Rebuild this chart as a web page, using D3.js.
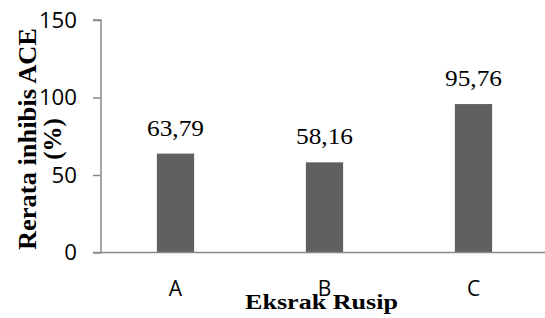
<!DOCTYPE html>
<html>
<head>
<meta charset="utf-8">
<script src="https://cdn.jsdelivr.net/npm/d3@7"></script>
<style>
  body { margin: 0; background: #fff; }
</style>
</head>
<body>
<svg id="chart" width="545" height="318"></svg>
<script>
const categories = ["A", "B", "C"];
const values = [63.79, 58.16, 95.76];
const valueLabels = ["63,79", "58,16", "95,76"];
const yTicks = [0, 50, 100, 150];

const svg = d3.select("#chart");
const margin = { left: 101, top: 20, right: 0, bottom: 65 };
const width = 545, height = 318;
const axisColor = "#898989";
const serif = "'Liberation Serif', 'Times New Roman', serif";
const sans = "'Open Sans', sans-serif";

const x = d3.scaleBand()
  .domain(categories)
  .range([margin.left, margin.left + 447])
  .paddingInner(0.75)
  .paddingOuter(0.375);

const y = d3.scaleLinear()
  .domain([0, 150])
  .range([height - margin.bottom - 0.5, margin.top]);

// y axis
const yAxis = svg.append("g")
  .attr("transform", `translate(${margin.left},0)`)
  .call(d3.axisLeft(y).tickValues(yTicks).tickSize(8).tickPadding(16));
yAxis.selectAll("line, path").attr("stroke", axisColor).attr("stroke-width", 1.5);
yAxis.select(".domain").attr("d", `M-8,${y(150)}H0V${y(0)}`);
yAxis.selectAll(".tick text")
  .style("font-family", sans)
  .style("font-size", "22px")
  .attr("textLength", (d) => String(d).length * 12.7)
  .attr("lengthAdjust", "spacingAndGlyphs")
  .attr("fill", "#000");

// bars
svg.append("g").selectAll("rect")
  .data(values)
  .enter().append("rect")
  .attr("x", (d, i) => x(categories[i]))
  .attr("y", (d) => y(d))
  .attr("width", x.bandwidth())
  .attr("height", (d) => y(0) - y(d))
  .attr("fill", "#606060");

// x axis line
svg.append("line")
  .attr("x1", margin.left - 8)
  .attr("x2", width)
  .attr("y1", y(0))
  .attr("y2", y(0))
  .attr("stroke", axisColor)
  .attr("stroke-width", 1.5);

// category labels
svg.append("g").selectAll("text")
  .data(categories)
  .enter().append("text")
  .attr("x", (d) => x(d) + x.bandwidth() / 2)
  .attr("y", 296)
  .attr("text-anchor", "middle")
  .style("font-family", sans)
  .style("font-size", "21px")
  .text((d) => d);

// value labels
svg.append("g").selectAll("text")
  .data(values)
  .enter().append("text")
  .attr("x", (d, i) => x(categories[i]) + x.bandwidth() / 2 - 28.5)
  .attr("y", (d) => y(d) - 18)
  .attr("textLength", 57)
  .attr("lengthAdjust", "spacingAndGlyphs")
  .style("font-family", serif)
  .style("font-size", "24px")
  .text((d, i) => valueLabels[i]);

// axis titles
svg.append("text")
  .attr("x", 245)
  .attr("y", 309)
  .attr("textLength", 153)
  .attr("lengthAdjust", "spacingAndGlyphs")
  .style("font-family", serif)
  .style("font-weight", "bold")
  .style("font-size", "20px")
  .text("Eksrak Rusip");

const yTitle = svg.append("text")
  .attr("transform", "translate(0,250) rotate(-90)")
  .style("font-family", serif)
  .style("font-weight", "bold")
  .style("font-size", "25px");
yTitle.append("tspan")
  .attr("x", 0).attr("y", 36)
  .attr("textLength", 222)
  .attr("lengthAdjust", "spacingAndGlyphs")
  .text("Rerata inhibis ACE");
yTitle.append("tspan")
  .attr("x", 111).attr("y", 61)
  .attr("text-anchor", "middle")
  .text("(%)");
</script>
</body>
</html>
